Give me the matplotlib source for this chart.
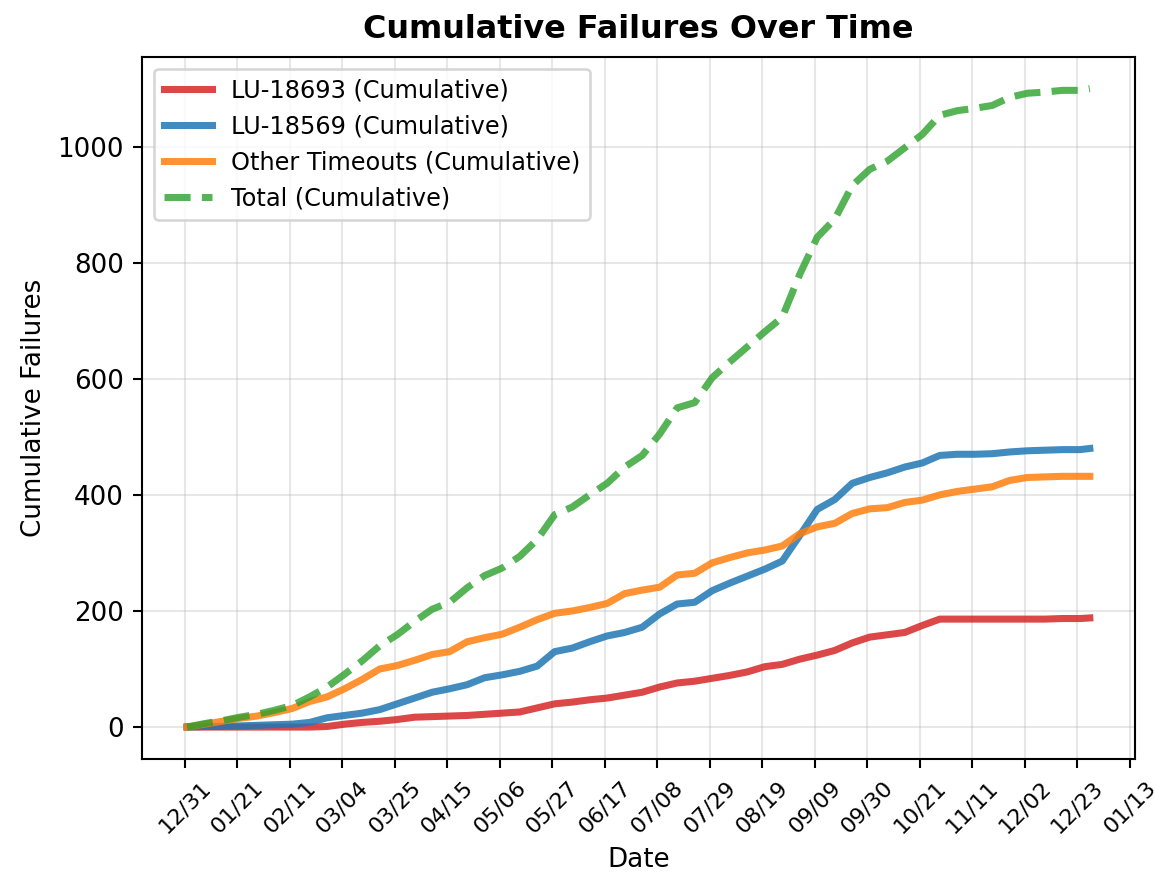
import matplotlib
matplotlib.use("Agg")
import matplotlib.pyplot as plt
import matplotlib.dates as mdates
import numpy as np
import pandas as pd

# ---- data (cumulative counts) ----
start_date = "2023-01-01"
day_offsets = [0, 7, 14, 21, 28, 35, 42, 49, 56, 63, 70, 77, 84, 91, 98, 105,
               112, 119, 126, 133, 140, 147, 154, 161, 168, 175, 182, 189, 196,
               203, 210, 217, 224, 231, 238, 245, 252, 259, 266, 273, 280, 287,
               294, 301, 308, 315, 322, 329, 336, 343, 350, 357, 361]

lu_18693 = [0, 0, 0, 0, 0, 0, 0, 0, 1, 5, 8, 10, 13, 17, 18, 19,
            20, 22, 24, 26, 33, 40, 43, 47, 50, 55, 60, 69, 76,
            79, 84, 89, 95, 104, 108, 117, 124, 132, 145, 155, 159, 163,
            175, 186, 186, 186, 186, 186, 186, 186, 187, 187, 188]

lu_18569 = [0, 1, 1, 2, 3, 4, 5, 8, 16, 20, 24, 30, 40, 50, 60, 66,
            73, 85, 90, 96, 105, 130, 136, 147, 157, 163, 172, 195, 212,
            215, 235, 248, 260, 272, 286, 330, 375, 392, 420, 430, 438, 448,
            455, 468, 470, 470, 471, 474, 476, 477, 478, 478, 480]

other_timeouts = [0, 5, 10, 15, 19, 25, 32, 44, 52, 66, 82, 100, 106, 115, 125, 130,
                  147, 154, 160, 172, 185, 196, 200, 206, 213, 230, 236, 241, 262,
                  265, 283, 292, 300, 305, 312, 333, 345, 351, 368, 376, 378, 387,
                  391, 400, 406, 410, 414, 425, 430, 431, 432, 432, 432]

tick_start = "2022-12-31"
tick_count = 19
tick_step_days = 21

series_labels = ["LU-18693 (Cumulative)", "LU-18569 (Cumulative)",
                 "Other Timeouts (Cumulative)", "Total (Cumulative)"]
series_colors = ["#d62728", "#1f77b4", "#ff7f0e", "#2ca02c"]

# ---- build ----
dates = pd.to_datetime(start_date) + pd.to_timedelta(day_offsets, unit="D")
total = np.array(lu_18693) + np.array(lu_18569) + np.array(other_timeouts)
ticks = pd.to_datetime(tick_start) + pd.to_timedelta(
    np.arange(tick_count) * tick_step_days, unit="D")

DPI = 188
fig = plt.figure(figsize=(1154 / DPI, 872 / DPI), dpi=DPI)
ax = fig.add_axes([0.123, 0.1296, 0.8605, 0.8054])

lw = 2.7
ax.plot(dates, lu_18693, color=series_colors[0], lw=lw, alpha=0.85, label=series_labels[0])
ax.plot(dates, lu_18569, color=series_colors[1], lw=lw, alpha=0.85, label=series_labels[1])
ax.plot(dates, other_timeouts, color=series_colors[2], lw=lw, alpha=0.85, label=series_labels[2])
ax.plot(dates, total, color=series_colors[3], lw=lw, alpha=0.8, ls="--", label=series_labels[3])

ax.set_xticks(ticks)
ax.xaxis.set_major_formatter(mdates.DateFormatter("%m/%d"))
plt.setp(ax.get_xticklabels(), rotation=45, fontsize=8.5)
ax.tick_params(axis="y", labelsize=10)

ax.set_title("Cumulative Failures Over Time", fontsize=12.2, fontweight="bold", pad=7)
ax.set_xlabel("Date", fontsize=10)
ax.set_ylabel("Cumulative Failures", fontsize=10)
ax.grid(True, alpha=0.3)
ax.legend(loc="upper left", fontsize=9.2, handlelength=2.0)

fig.savefig("out.png", dpi=DPI)
